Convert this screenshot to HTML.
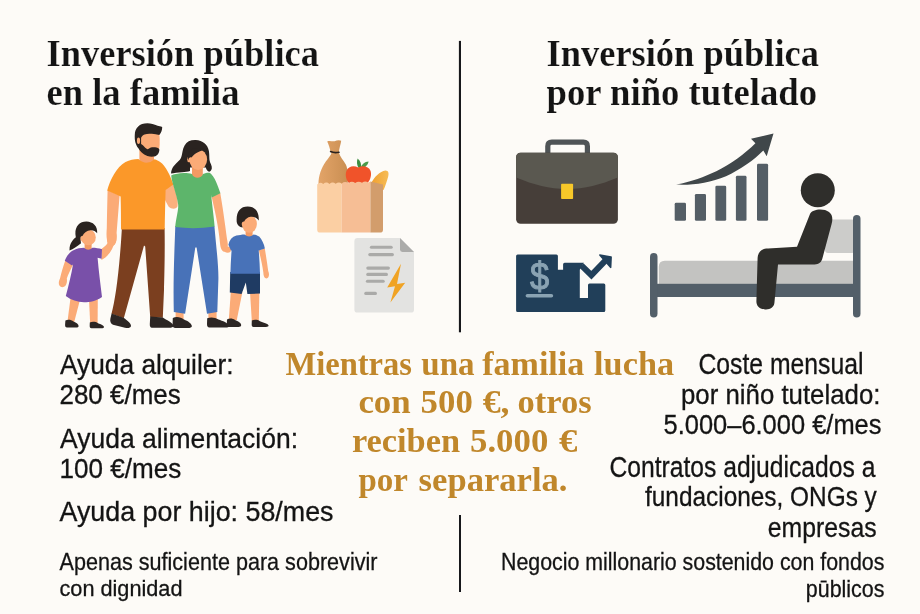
<!DOCTYPE html>
<html lang="es">
<head>
<meta charset="utf-8">
<title>Inversión pública</title>
<style>
html,body{margin:0;padding:0;background:#FDFBF7;}
body{width:920px;height:614px;overflow:hidden;position:relative;}
svg{position:absolute;left:0;top:0;display:block;will-change:transform;}
.ttl{font-family:"Liberation Serif",serif;font-weight:bold;font-size:37.4px;fill:#141414;stroke:#FDFBF7;stroke-width:0.2px;}
.body{font-family:"Liberation Sans",sans-serif;font-size:26px;fill:#141414;stroke:#141414;stroke-width:0.3px;}
.gold{font-family:"Liberation Serif",serif;font-weight:bold;font-size:30.2px;fill:#C0872B;}
</style>
</head>
<body>
<svg width="920" height="614" viewBox="0 0 920 614">
<rect width="920" height="614" fill="#FDFBF7"/>

<!-- divider -->
<rect x="458.9" y="40.9" width="2.1" height="291.4" fill="#17181c"/>
<rect x="459" y="515" width="2" height="77" fill="#17181c"/>

<!-- titles -->
<g class="ttl">
<text x="46.5" y="66" textLength="272.5" lengthAdjust="spacingAndGlyphs">Inversión pública</text>
<text x="46.5" y="104.8" textLength="193" lengthAdjust="spacingAndGlyphs">en la familia</text>
<text x="546.5" y="66" textLength="272.5" lengthAdjust="spacingAndGlyphs">Inversión pública</text>
<text x="546.5" y="104.8" textLength="270.5" lengthAdjust="spacingAndGlyphs">por niño tutelado</text>
</g>

<!-- left body text -->
<g class="body">
<text x="60" y="373.7" font-size="28" textLength="173.5" lengthAdjust="spacingAndGlyphs">Ayuda alquiler:</text>
<text x="59.5" y="404.1" font-size="27.8" textLength="121.2" lengthAdjust="spacingAndGlyphs">280 €/mes</text>
<text x="60" y="447.5" font-size="27.8" textLength="238" lengthAdjust="spacingAndGlyphs">Ayuda alimentación:</text>
<text x="59.5" y="478" font-size="27.6" textLength="121.7" lengthAdjust="spacingAndGlyphs">100 €/mes</text>
<text x="59.5" y="521.3" font-size="27.8" textLength="274" lengthAdjust="spacingAndGlyphs">Ayuda por hijo: 58/mes</text>
<text x="59.5" y="569.8" font-size="24.8" textLength="318" lengthAdjust="spacingAndGlyphs">Apenas suficiente para sobrevivir</text>
<text x="59.5" y="596" font-size="22.4" textLength="123" lengthAdjust="spacingAndGlyphs">con dignidad</text>
</g>

<!-- centre text -->
<g class="gold">
<text x="285.4" y="374.8" font-size="33" textLength="126.6" lengthAdjust="spacingAndGlyphs">Mientras</text>
<text x="421.3" y="374.8" font-size="33" textLength="53.3" lengthAdjust="spacingAndGlyphs">una</text>
<text x="482.2" y="374.8" font-size="33" textLength="102.1" lengthAdjust="spacingAndGlyphs">familia</text>
<text x="594.1" y="374.8" font-size="33" textLength="80.0" lengthAdjust="spacingAndGlyphs">lucha</text>
<text x="358.4" y="412.5" font-size="33" textLength="52.3" lengthAdjust="spacingAndGlyphs">con</text>
<text x="420.6" y="412.5" font-size="33" textLength="52.2" lengthAdjust="spacingAndGlyphs">500</text>
<text x="482.7" y="412.5" font-size="33" textLength="26.9" lengthAdjust="spacingAndGlyphs">€,</text>
<text x="517.5" y="412.5" font-size="33" textLength="74.1" lengthAdjust="spacingAndGlyphs">otros</text>
<text x="351.9" y="451.5" font-size="33" textLength="108.2" lengthAdjust="spacingAndGlyphs">reciben</text>
<text x="470.0" y="451.5" font-size="33" textLength="78.3" lengthAdjust="spacingAndGlyphs">5.000</text>
<text x="559.0" y="451.5" font-size="33" textLength="18.4" lengthAdjust="spacingAndGlyphs">€</text>
<text x="358.4" y="490.6" font-size="33.6" textLength="49.4" lengthAdjust="spacingAndGlyphs">por</text>
<text x="418.6" y="490.6" font-size="33.6" textLength="148.9" lengthAdjust="spacingAndGlyphs">separarla.</text>
</g>

<!-- right body text -->
<g class="body">
<text x="698.5" y="374.2" font-size="28.6" textLength="165" lengthAdjust="spacingAndGlyphs">Coste mensual</text>
<text x="681" y="404.3" font-size="27.3" textLength="199.4" lengthAdjust="spacingAndGlyphs">por niño tutelado:</text>
<text x="663.5" y="434.3" font-size="28.2" textLength="218" lengthAdjust="spacingAndGlyphs">5.000–6.000 €/mes</text>
<text x="609.4" y="476.7" font-size="29" textLength="266" lengthAdjust="spacingAndGlyphs">Contratos adjudicados a</text>
<text x="645" y="506.3" font-size="27.5" textLength="231.8" lengthAdjust="spacingAndGlyphs">fundaciones, ONGs y</text>
<text x="767.7" y="537.2" font-size="28.3" textLength="108.9" lengthAdjust="spacingAndGlyphs">empresas</text>
<text x="501" y="570" font-size="24.2" textLength="383.4" lengthAdjust="spacingAndGlyphs">Negocio millonario sostenido con fondos</text>
<text x="805.8" y="596.8" font-size="23.8" textLength="78.6" lengthAdjust="spacingAndGlyphs">pūblicos</text>
</g>

<!-- ILLUSTRATIONS -->
<g id="family">
<!-- FATHER -->
<!-- right arm behind mother -->
<path d="M165,188.5 L173.3,184.3 C176,192 178.2,200 177.6,206 C176.5,209.5 171.5,209.5 168.5,206.5 L165,200 Z" fill="#FBB07E"/>
<!-- left arm -->
<path d="M107.6,190 L119.6,195.5 C118.6,208 117.5,222 116.6,233 C117.4,238 116.5,243.5 113.5,245.5 C110.5,247 107.6,244.5 107,240 C106.3,236 106.5,232 106.8,228 C107,215 107.3,202 107.6,190 Z" fill="#FBAB77"/>
<!-- pants -->
<path d="M121.9,228 L164.6,228 C165,250 164.4,275 164,290 L162.8,317.8 L150.2,317 L145.2,246.5 L144,245.6 L123.8,318.2 L111.5,313.8 C115.6,299 119.6,268 121.9,228 Z" fill="#7B3F1F"/>
<!-- shoes -->
<path d="M111.6,313.6 L123.6,317.8 C127.5,320.8 131.2,323.3 131,326 C130.6,328 128,328.3 125,327.8 L113,324.8 C110.6,323.8 109.8,321.2 110.4,318.6 Z" fill="#2C2624"/>
<path d="M150.2,316.6 L162.8,317.6 C166.5,320.3 172.3,322.3 173.4,325.4 C173.5,327.3 171.6,327.7 169,327.7 L152,327.7 C150.1,327.7 149.7,326 149.8,324 Z" fill="#2C2624"/>
<!-- neck -->
<path d="M139.4,148 L154,152 L154,165 L139.4,165 Z" fill="#F6A069"/>
<!-- shirt -->
<path d="M138.4,159 Q146.5,166.4 154.6,159.2 C156.5,159.6 158.5,161 160.5,162.2 C165.5,165.5 170.5,176 173.4,184.4 L165.6,190 C165.2,203 164.9,217 164.7,229.4 L121,229.4 C121,219 121,208 120.6,196.5 L119.6,196 L107.2,190.4 C110,180 116.5,167 125.5,162 C129.5,160 134,159.2 138.4,159 Z" fill="#FB9829"/>
<!-- head -->
<path d="M140.2,133 C145,130.5 153,130 159,132.5 C159.8,137 160,143 159.4,148 C158,153 153,156 149,156 C144,155.5 140.6,151 140.2,146 Z" fill="#FBAB77"/>
<!-- hair + beard -->
<path d="M162.2,127 C160.5,126.2 159,126 157.6,125.8 C154,124 151,123.2 147.4,123.2 C143.5,123.2 140.2,124.4 138.2,126.4 C135.8,128.6 134.8,131.4 134.8,134.4 C134.6,137.2 134.8,140 135.4,142.4 C136,144.6 137,146.6 138.2,148.1 C139.2,149.8 140.4,151.4 141.7,152.6 C143.2,154.2 145.2,155.4 147.4,156 C149.6,156.8 152,156.9 154.2,156.6 C155.8,156.2 157.4,155.2 158.2,153.8 C159,152.4 159.5,150.8 159.3,149.2 C158.5,148.2 157.5,147.6 156.5,147.5 C154.6,147.2 152.6,147.2 150.8,147.5 C149.6,148 148.6,149 147.4,149.2 C145.8,148.6 144.6,147 143.4,145.8 C142.6,145 141.8,144.5 141.1,144.1 L141.1,137.8 C141.8,136.2 143,135 144.5,134.4 C146.8,133.6 149.4,133.6 151.9,133.8 C154.4,134 157,134.4 159.3,135 C160.4,133.8 161.2,132.4 161.6,131 C162,129.6 162.2,128.2 162.2,127 Z" fill="#2A2320"/>
<ellipse cx="138.5" cy="140.8" rx="1.6" ry="3.3" fill="#FBAB77"/>

<!-- MOTHER -->
<!-- hair back -->
<path d="M195.8,140 C190.5,139.8 186.8,141.6 184.6,145.4 C182.4,149 182.6,152.6 181.6,156 C181,158.2 180.2,159.6 179.1,160.6 C177,162.6 175,164.4 173.4,166.4 C172,168.4 171.2,170.8 171,173.4 C174,173 178,172.6 182,172.2 C185,172 188,171.6 190,171 L190,167.6 L205.8,167.6 C206.4,169.6 207.4,171.2 209,171.8 C210.4,171.6 211.4,170.6 211.8,168.6 C212.4,165.6 209.8,163 209.5,160 C209.2,157 209.4,154 208.9,151 C207.8,144.6 202.6,140.2 195.8,140 Z" fill="#2A2320"/>
<!-- right arm -->
<path d="M211.6,196.4 L220.2,192.8 C222.4,205 225.2,225 227,239 C228.6,245.5 227.8,251 225.2,251.8 C222.2,252 220.4,248.5 220,243 C218.6,226 214.4,209 211.6,196.4 Z" fill="#FBAB77"/>
<!-- ankles -->
<rect x="175.6" y="310" width="8" height="9" fill="#FBAB77"/>
<rect x="208.4" y="311" width="8.2" height="8" fill="#FBAB77"/>
<!-- pants -->
<path d="M175.3,226 L214.4,226 C216,245 218.6,265 218.4,279 L217.3,312 L207,313.8 L196.6,247.6 L195.3,247.6 L185.1,313.8 L173.8,311.9 C173,280 174.5,250 175.3,226 Z" fill="#4872B8"/>
<!-- shoes -->
<path d="M172.8,318 C176,316.2 181,317 184,319.4 C188,321 191.6,323.4 191.9,326 C191.9,327.6 190,328 188,328 L175.5,328 C173.2,328 172.5,326.5 172.6,324 Z" fill="#2C2624"/>
<path d="M207.2,318.2 C211,316.8 215.5,317.4 218.5,319.6 C222.5,321 228.4,323 229,325.8 C229,327.3 227.5,327.6 225.5,327.6 L209.5,327.6 C207.5,327.6 207,326.2 207,324 Z" fill="#2C2624"/>
<!-- neck -->
<rect x="192" y="164" width="10.8" height="15" fill="#F39A63"/>
<!-- shirt -->
<path d="M176,174 C182,172.6 188,173 192,174 C193.6,179 201.4,179 203,174 C206,173 208,172.6 210,173 C214.4,176 218,186 220.4,193.2 L211.8,197.4 L211.2,195 C212.2,206 214,218 214.6,226.4 Q195,229.6 175.2,227 C176,218 178.6,210 178.2,205 C177,195 172,184 171.2,175.6 C172.5,174.5 174,174.1 176,174 Z" fill="#5DB56B"/>
<!-- face -->
<ellipse cx="189" cy="159.4" rx="1.8" ry="2.8" fill="#FBAB77"/>
<ellipse cx="198.2" cy="159.6" rx="8.9" ry="10.4" fill="#FBAB77"/>
<!-- bangs -->
<path d="M188.2,160.5 C186,152 192,144.5 207,149.6 C200.5,150.4 194.5,153.4 191.6,157.6 C190.2,156.8 188.6,158 188.2,160.5 Z" fill="#2A2320"/>

<!-- GIRL -->
<path d="M79.5,235 C74,237.6 69,243 69.5,250.6 C73.2,249 77.2,246.2 81,243.2 Z" fill="#2A2320"/>
<!-- legs -->
<path d="M70.4,299 L80.2,299 L74.2,322 L67.4,322 Z" fill="#FBAB77"/>
<path d="M89,299 L97.8,299 L97.6,324 L90.2,324 Z" fill="#FBAB77"/>
<!-- shoes -->
<path d="M65.4,320.4 C68,319.2 71.5,319.8 73.5,321.4 C76.5,322.6 78.6,324.2 78.6,326 C78.6,327.2 77.5,327.6 76,327.6 L67,327.6 C65.5,327.6 65,326.4 65.1,324.6 Z" fill="#2C2624"/>
<path d="M89.8,322.4 C92.5,321.4 96,321.8 98,323.2 C101,324.2 104,325.4 104,327 C104,328 103,328.3 101.5,328.3 L91.5,328.3 C90,328.3 89.6,327.2 89.7,325.6 Z" fill="#2C2624"/>
<!-- left arm -->
<path d="M65.2,260.8 L72.8,265 C70.5,270 68,275 66.8,278.4 C67.4,281.6 66.6,285.4 64,286.8 C61,288 58.4,286 58.8,282.6 C59,280.6 59.6,279.4 60,278.4 C61.4,272.6 63.2,266.4 65.2,260.8 Z" fill="#FBAB77"/>
<!-- right arm -->
<path d="M101.4,249 C105,247 108,243.4 109.4,239.6 L114.6,241.6 C113.6,248.6 108.6,256.4 101.4,260 Z" fill="#FBAB77"/>
<!-- neck -->
<rect x="84.6" y="242" width="7" height="9" fill="#F39A63"/>
<!-- dress -->
<path d="M84,247.8 Q88.2,251.6 92.4,247.8 C95.5,247.8 99,248.4 102,249.2 L101.6,258.8 L97.6,257.8 C98.6,270 100.4,284 102,297 C96,301.2 90,302.2 84,302.2 C77.5,302 71,300 65.8,296 C68.5,286 71.5,274 73,264.5 L72,265.4 L64.8,260.8 C66.5,256 69.5,252 74,250 C77,248.6 80.5,247.8 84,247.8 Z" fill="#7950A9"/>
<!-- face -->
<ellipse cx="88.4" cy="237.4" rx="7.4" ry="7.9" fill="#FBAB77"/>
<ellipse cx="81.6" cy="238.6" rx="1.5" ry="2.2" fill="#FBAB77"/>
<!-- hair -->
<path d="M75.4,234 C75,226 80,221.5 86.5,221.6 C93,221.8 97.6,226 97.2,233.2 C95.6,231 93,230 90.5,230.2 C87,230.4 84,232.6 82.4,236 C81.6,235.6 80.6,236.4 80.4,238 C80.2,240 80.6,241.6 80.2,243.2 C77,241 75.5,238 75.4,234 Z" fill="#2A2320"/>
<!-- father's hand over girl's -->
<ellipse cx="111.6" cy="240" rx="4.6" ry="6" fill="#FBAB77"/>

<!-- BOY -->
<!-- legs -->
<path d="M230.8,292 L242.4,292 L236.8,320 L228.8,320 Z" fill="#FBAB77"/>
<path d="M250,292 L259.4,292 L258.8,321 L251.8,321 Z" fill="#FBAB77"/>
<!-- shoes -->
<path d="M227,319.4 C229.5,318 233,318.4 235,320 C238,321.2 241.2,323 241.2,325 C241.2,326.4 240,326.9 238.5,326.9 L228.5,326.9 C227,326.9 226.7,325.6 226.8,323.6 Z" fill="#2C2624"/>
<path d="M251.8,320.4 C254.5,319.4 258,319.8 260,321.2 C263,322.4 268.5,323.6 268.6,325.6 C268.6,326.7 267.5,327 266,327 L253.5,327 C252,327 251.6,325.8 251.7,324 Z" fill="#2C2624"/>
<!-- shorts -->
<path d="M230.2,272 L260,272 L260,293.6 L247.4,294 L245.8,282.5 L241.6,294 L229.8,292.6 Z" fill="#1F3B63"/>
<!-- right arm -->
<path d="M258.8,250 L264.8,248.4 C266.2,257 267.6,266 268.2,271 C269.8,274.6 268.8,278.4 266.6,278.4 C264.4,278.4 263.4,275.6 263.4,273 C262.4,265 260.4,257 258.8,250 Z" fill="#FBAB77"/>
<!-- left hand -->
<ellipse cx="227.6" cy="249.6" rx="3.4" ry="3.2" fill="#FBAB77"/>
<!-- neck -->
<rect x="245.6" y="229" width="7" height="9" fill="#F39A63"/>
<!-- shirt -->
<path d="M244.6,234.4 Q249.1,238.4 253.6,234.4 C255.5,234.6 257.5,235.4 259.2,236.6 C262,239.6 264,244 264.9,248.6 L258.7,250.6 C259.4,258 259.8,266 260,273.8 L230.4,273.8 C230.6,266 231,258 231.6,250.4 L231,250.6 L228.4,244.8 C229.4,240 232,237 236.4,235.6 C239,235 241.8,234.4 244.6,234.4 Z" fill="#4872B8"/>
<!-- face -->
<ellipse cx="249.4" cy="224" rx="7.5" ry="8.8" fill="#FBAB77"/>
<ellipse cx="242.6" cy="225" rx="1.5" ry="2.3" fill="#FBAB77"/>
<!-- hair -->
<path d="M236.7,222 C236,212 240,206.6 247.7,206.6 C254.2,206.6 259.2,210.6 258.8,220.6 C256.6,217.8 253.6,216.4 250.6,216.8 C247.6,217.2 245.2,219.2 244.2,221.6 C243.2,221.2 242,222 241.8,223.6 C241.6,225.2 242.4,226.6 242.6,227.6 C239.5,227 237,225 236.7,222 Z" fill="#2A2320"/>
</g>
<defs>
<linearGradient id="sackg" x1="0" y1="0" x2="1" y2="0">
<stop offset="0" stop-color="#E3A468"/><stop offset="1" stop-color="#C98E52"/>
</linearGradient>
<linearGradient id="breadg" x1="0" y1="0" x2="1" y2="0">
<stop offset="0" stop-color="#F0A030"/><stop offset="1" stop-color="#F6BC55"/>
</linearGradient>
</defs>
<g id="groceries">
<!-- sack -->
<path d="M318.5,184 C318.4,176 321.4,168 325.8,161.6 C328.4,158 330.4,155.6 331.4,153.4 L330.6,152 C329.8,148 328.6,144 327.2,141.4 C329.6,140.4 332.4,141.6 334.6,141.2 C336.8,140.2 339.6,139.8 341.2,140.8 C340.6,144.6 339.2,148.6 338.8,152.4 C340,156.6 343.2,160 345.8,164.4 C348,169 348.4,176 347.6,184 Z" fill="url(#sackg)"/>
<path d="M330.6,151.6 C333.4,152.8 336.4,152.8 339,152.2" fill="none" stroke="#2A2320" stroke-width="1.6" stroke-linecap="round"/>
<!-- bread -->
<path d="M371,184 C374,177 380,171.6 385.4,170.6 C388.6,170.6 389,173.4 388.2,176.4 C387,181 385.2,186 383.6,190 Z" fill="url(#breadg)"/>
<!-- leaves -->
<path d="M359,168.4 C356.6,165 356.6,161.4 357.6,158.4 C360.6,160.6 361.6,164.4 361,168 Z" fill="#3E8E41"/>
<path d="M360.6,168 C361.6,164.4 364.6,161.6 368.6,161.4 C368,165 365,167.6 361.6,168.6 Z" fill="#4C9A4A"/>
<!-- apple -->
<path d="M358.2,167.6 C362.5,165.2 368.6,166 370.6,171 C372.2,176 369.5,183 364.5,185 L352,185 C346.8,183 344.6,176 346.4,171 C348.4,166 354,165.2 358.2,167.6 Z" fill="#F0532A"/>
<!-- bag -->
<path d="M317.2,184.6 Q320,181.4 323.2,184 Q326.4,181.2 329.4,184 Q332.6,181.2 335.6,183.8 Q338.8,181.2 341.7,183.4 L341.7,232.6 L320.4,232.6 Q317.2,232.6 317.2,229.4 Z" fill="#FBCFA3"/>
<path d="M341.7,183.4 Q345,180.6 348.4,183.2 Q351.8,180.4 355.2,183 Q358.6,180.4 362,182.8 Q365.2,180.2 368.2,182.6 L370.4,181.4 L370.4,232.6 L341.7,232.6 Z" fill="#F6BE95"/>
<path d="M370.4,181.4 L383,184.6 L383,229.4 Q383,232.6 379.8,232.6 L370.4,232.6 Z" fill="#D29D6C"/>
</g>
<g id="bill">
<path d="M357.6,238 L400,238 L414,252 L414,309.4 Q414,312.6 410.8,312.6 L357.6,312.6 Q354.4,312.6 354.4,309.4 L354.4,241.2 Q354.4,238 357.6,238 Z" fill="#E3E3E1"/>
<path d="M400,238 L414,252 L402.4,252 Q400,252 400,249.6 Z" fill="#ABABA9"/>
<g fill="none" stroke="#AAAAA8" stroke-width="3.1" stroke-linecap="round">
<path d="M371.4,247.3 H391.2"/>
<path d="M369.8,254.6 H392.4"/>
<path d="M367.8,268.1 H388.4"/>
<path d="M367.8,274.4 H386.4"/>
<path d="M367.4,281.2 H383.2"/>
<path d="M365.8,293.4 H375.4"/>
</g>
<path d="M401,263.7 L387.2,287.5 L395,286.2 L390.4,302.4 L405.2,282.8 L397,284 Z" fill="#F0A324"/>
</g>
<g id="briefcase">
<path d="M547.8,153 V146.2 Q547.8,142.2 551.8,142.2 H583.4 Q587.4,142.2 587.4,146.2 V153" fill="none" stroke="#4F5456" stroke-width="5.2"/>
<rect x="516.1" y="152.7" width="101.8" height="71" rx="4.5" fill="#463E39"/>
<path d="M516.1,157.2 Q516.1,152.7 520.6,152.7 H613.4 Q617.9,152.7 617.9,157.2 V177.6 C600,185 585,189 567,189 C549,189 534,185 516.1,177.6 Z" fill="#5A5850"/>
<rect x="561.1" y="183.8" width="12" height="15.2" rx="0.8" fill="#F7C829"/>
</g>
<g id="money">
<path d="M517.6,254.5 H556.4 Q557.9,254.5 557.9,256 V269.8 H563.1 V264.3 Q563.1,262.8 564.6,262.8 H583.9 L579.8,269.8 V298 H588 V285.1 Q588,283.6 589.5,283.6 H603.8 Q605.3,283.6 605.3,285.1 V310.5 Q605.3,312 603.8,312 H517.6 Q516.1,312 516.1,310.5 V256 Q516.1,254.5 517.6,254.5 Z" fill="#213F59"/>
<path d="M581.6,265.6 L591.4,275.2 L605.6,260.4" fill="none" stroke="#213F59" stroke-width="6" stroke-linejoin="miter"/>
<path d="M599.8,254.3 L611.2,256.2 Q612,256.4 611.9,257.2 L611.4,267.8 Q610.6,268.6 610,267.8 L599.2,255.6 Q598.8,254.4 599.8,254.3 Z" fill="#213F59"/>
<text x="530" y="289.9" textLength="19.2" lengthAdjust="spacingAndGlyphs" font-family="'Liberation Sans',sans-serif" font-size="39.7" fill="#8AA3B3" stroke="#8AA3B3" stroke-width="1">$</text>
<path d="M527.4,295.7 H551.4" fill="none" stroke="#8AA3B3" stroke-width="3.6" stroke-linecap="round"/>
</g>
<g id="chart" fill="#545E66">
<rect x="674.7" y="202.8" width="11.3" height="18" rx="1.4"/>
<rect x="694.9" y="193.9" width="11.1" height="26.9" rx="1.4"/>
<rect x="715.4" y="185.7" width="10.8" height="35.1" rx="1.4"/>
<rect x="735.9" y="175.8" width="10.6" height="45" rx="1.4"/>
<rect x="757" y="163.8" width="11.1" height="57" rx="1.4"/>
<path d="M676.1,184.6 C692,181.6 704,177 716.3,171.2 C730,164.6 745,153.6 755.4,143.2 L751,138.7 L773.5,133.5 L766.7,156.3 L763.3,150.4 C754,160 740,169.6 726,176.2 C710,183 692,185.4 676.1,184.6 Z" fill="#40474A"/>
</g>
<g id="bed">
<rect x="825" y="219.5" width="30" height="33.5" rx="3" fill="#CCCCCA"/>
<path d="M664.8,260.8 H855 V285 H658.8 V266.8 Q658.8,260.8 664.8,260.8 Z" fill="#C3C3C1"/>
<rect x="653" y="283.8" width="204" height="13.2" fill="#535F69"/>
<rect x="650" y="253" width="7.5" height="64.6" rx="3.75" fill="#535F69"/>
<rect x="853" y="215" width="7.5" height="102.6" rx="3.75" fill="#535F69"/>
<!-- person -->
<circle cx="817.8" cy="190.2" r="17" fill="#2F2E2B"/>
<path d="M810,214 C812,209 824,208 829,212 C832.5,214.5 833,219 831.6,224 L822.5,258 C821.5,262.6 818.5,264.6 814,264.4 L778,264.6 L774.4,303 C773.8,307.4 770,309.8 765,309.4 C759.5,309 756.2,305.6 756.4,301 L757.6,258 C758,251.6 762,248.4 768,248.4 L797,246.8 Z" fill="#2F2E2B"/>
</g>
</svg>
</body>
</html>
